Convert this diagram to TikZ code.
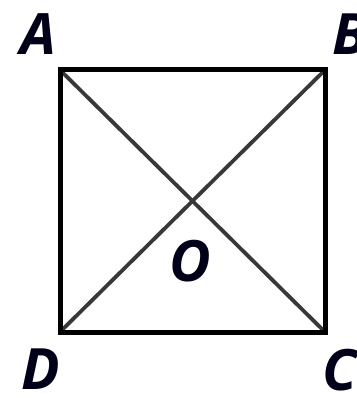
\documentclass[tikz,border=0pt]{standalone}
\usepackage{fontspec}
\setmainfont{Open Sans}
\begin{document}
\begin{tikzpicture}[x=1pt,y=-1pt,
  lbl/.style={font=\fontsize{57}{60}\selectfont\bfseries\itshape, text=black!90!blue, inner sep=0pt},
  side/.style={line width=5pt, black},
  diag/.style={line width=3.8pt, black!78}]
\useasboundingbox (0,0) rectangle (356,398);
\begin{scope}
\clip (0,0) rectangle (356,398);
\coordinate (a) at (60,70);
\coordinate (b) at (325,70);
\coordinate (c) at (325,332);
\coordinate (d) at (60,332);
\draw[diag] (a) -- (c);
\draw[diag] (b) -- (d);
\draw[side] (a) -- (b) -- (c) -- (d) -- cycle;
\node[lbl] (A) at (38,34) {A};
\node[lbl] (B) at (350,34) {B};
\node[lbl] (C) at (340,370) {C};
\node[lbl] (D) at (41,369) {D};
\node[lbl] (O) at (190,261) {O};
\end{scope}
\end{tikzpicture}
\end{document}
